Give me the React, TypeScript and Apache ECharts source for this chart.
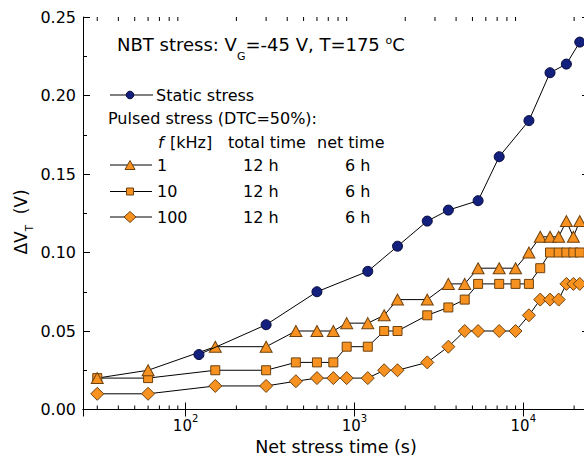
import React, { useEffect, useRef } from 'react';
import * as echarts from 'echarts';

// ---- data ----
const pulsedTime = [30, 60, 150, 300, 450, 600, 750, 900, 1200, 1500, 1800, 2700, 3600, 4500, 5400, 7200, 9000, 10800, 12600, 14400, 16200, 18000, 19800, 21600];
const dvt1kHz = [0.02, 0.025, 0.04, 0.04, 0.05, 0.05, 0.05, 0.055, 0.055, 0.06, 0.07, 0.07, 0.08, 0.08, 0.09, 0.09, 0.09, 0.1, 0.11, 0.11, 0.11, 0.12, 0.11, 0.12];
const dvt10kHz = [0.02, 0.02, 0.025, 0.025, 0.03, 0.03, 0.03, 0.04, 0.04, 0.05, 0.05, 0.06, 0.065, 0.07, 0.08, 0.08, 0.08, 0.08, 0.09, 0.1, 0.1, 0.1, 0.1, 0.1];
const dvt100kHz = [0.01, 0.01, 0.015, 0.015, 0.018, 0.02, 0.02, 0.02, 0.02, 0.025, 0.025, 0.03, 0.04, 0.05, 0.05, 0.05, 0.05, 0.06, 0.07, 0.07, 0.07, 0.08, 0.08, 0.08];
const staticTime = [120, 300, 600, 1200, 1800, 2700, 3600, 5400, 7200, 10800, 14400, 18000, 21600];
const staticDVT = [0.035, 0.054, 0.075, 0.088, 0.104, 0.12, 0.127, 0.133, 0.161, 0.184, 0.2145, 0.22, 0.234];

const xMinorTicks = [30, 40, 50, 60, 70, 80, 90, 200, 300, 400, 500, 600, 700, 800, 900, 2000, 3000, 4000, 5000, 6000, 7000, 8000, 9000, 20000];
const X_MIN = 24.7;
const X_MAX = 24500;
const Y_MIN = 0;
const Y_MAX = 0.25;
const Y_STEP = 0.05;

const legendRows = [
  { f: '1', total: '12 h', net: '6 h' },
  { f: '10', total: '12 h', net: '6 h' },
  { f: '100', total: '12 h', net: '6 h' },
];

const FONT = 'DejaVu Sans';
const NAVY = '#14207e';
const NAVY_EDGE = '#060b3a';
const ORANGE = '#f7911f';
const ORANGE_EDGE = '#6e4210';
const CHART_W = 600;
const CHART_H = 459;

const zip = (xs: number[], ys: number[]) => xs.map((x, i) => [x, ys[i]]);
const isPow10 = (v: number) => {
  const l = Math.log10(v);
  return Math.abs(l - Math.round(l)) < 1e-6;
};

function buildOption() {
  const axisLineStyle = { color: '#000', width: 1 };
  const baseX = {
    type: 'log' as const,
    logBase: 10,
    min: X_MIN,
    max: X_MAX,
    axisLine: { show: true, lineStyle: axisLineStyle },
    axisTick: { show: true, inside: true, length: 7, lineStyle: axisLineStyle },
    splitLine: { show: false },
    minorSplitLine: { show: false },
  };
  const baseY = {
    type: 'value' as const,
    min: Y_MIN,
    max: Y_MAX,
    interval: Y_STEP,
    axisLine: { show: true, lineStyle: axisLineStyle },
    axisTick: { show: true, inside: true, length: 7, lineStyle: axisLineStyle },
    minorTick: { show: true, splitNumber: 2, length: 4, lineStyle: axisLineStyle },
    splitLine: { show: false },
  };
  const txt = { fontFamily: FONT, fill: '#000' };
  const lx0 = 110;
  const lx1 = 153;
  const mx = 130;
  const rowsY = [165, 191.5, 217];

  const legendGraphics: any[] = [
    // static
    { type: 'line', shape: { x1: lx0, y1: 95, x2: lx1, y2: 95 }, style: { stroke: '#000', lineWidth: 1 } },
    { type: 'circle', shape: { cx: mx, cy: 95, r: 3.8 }, style: { fill: NAVY, stroke: NAVY_EDGE, lineWidth: 1 } },
    { type: 'text', x: 156, y: 95, style: { ...txt, text: 'Static stress', fontSize: 16, verticalAlign: 'middle', textVerticalAlign: 'middle' } },
    { type: 'text', x: 108, y: 118, style: { ...txt, text: 'Pulsed stress (DTC=50%):', fontSize: 16, verticalAlign: 'middle', textVerticalAlign: 'middle' } },
    { type: 'text', x: 158, y: 142, style: { ...txt, text: 'f', fontSize: 16, fontStyle: 'italic', verticalAlign: 'middle', textVerticalAlign: 'middle' } },
    { type: 'text', x: 170, y: 142, style: { ...txt, text: '[kHz]', fontSize: 16, verticalAlign: 'middle', textVerticalAlign: 'middle' } },
    { type: 'text', x: 228, y: 142, style: { ...txt, text: 'total time', fontSize: 16, verticalAlign: 'middle', textVerticalAlign: 'middle' } },
    { type: 'text', x: 317, y: 142, style: { ...txt, text: 'net time', fontSize: 16, verticalAlign: 'middle', textVerticalAlign: 'middle' } },
  ];
  legendRows.forEach((r, i) => {
    const y = rowsY[i];
    legendGraphics.push({ type: 'line', shape: { x1: lx0, y1: y, x2: lx1 - 1, y2: y }, style: { stroke: '#000', lineWidth: 1 } });
    const mstyle = { fill: ORANGE, stroke: ORANGE_EDGE, lineWidth: 1 };
    if (i === 0) {
      legendGraphics.push({ type: 'polygon', shape: { points: [[mx - 5, y + 4.5], [mx + 5, y + 4.5], [mx, y - 4.5]] }, style: mstyle });
    } else if (i === 1) {
      legendGraphics.push({ type: 'rect', shape: { x: mx - 3.5, y: y - 3.5, width: 7, height: 7 }, style: mstyle });
    } else {
      legendGraphics.push({ type: 'polygon', shape: { points: [[mx - 6, y], [mx, y - 5.5], [mx + 6, y], [mx, y + 5.5]] }, style: mstyle });
    }
    legendGraphics.push({ type: 'text', x: 157, y, style: { ...txt, text: r.f, fontSize: 16, verticalAlign: 'middle', textVerticalAlign: 'middle' } });
    legendGraphics.push({ type: 'text', x: 243, y, style: { ...txt, text: r.total, fontSize: 16, verticalAlign: 'middle', textVerticalAlign: 'middle' } });
    legendGraphics.push({ type: 'text', x: 345, y, style: { ...txt, text: r.net, fontSize: 16, verticalAlign: 'middle', textVerticalAlign: 'middle' } });
  });

  const title = {
    type: 'text',
    x: 117,
    y: 35,
    style: {
      text: '{a|NBT stress: V}{s|G}{a|=-45 V, T=175 }{o|o}{a|C}',
      verticalAlign: 'top',
      textVerticalAlign: 'top',
      rich: {
        a: { fontFamily: FONT, fontSize: 18, fill: '#000', lineHeight: 27, verticalAlign: 'top' },
        s: { fontFamily: FONT, fontSize: 11, fill: '#000', lineHeight: 11, verticalAlign: 'bottom' },
        o: { fontFamily: FONT, fontSize: 11, fill: '#000', lineHeight: 11, verticalAlign: 'top' },
      },
    },
  };

  const yTitle = {
    type: 'text',
    x: 12,
    y: 222,
    rotation: Math.PI / 2,
    style: {
      text: '{a|ΔV}{s|T}{a|  (V)}',
      align: 'center',
      textAlign: 'center',
      verticalAlign: 'top',
      textVerticalAlign: 'top',
      rich: {
        a: { fontFamily: FONT, fontSize: 17, fill: '#000', lineHeight: 22, verticalAlign: 'top' },
        s: { fontFamily: FONT, fontSize: 10, fill: '#000', lineHeight: 10, verticalAlign: 'bottom' },
      },
    },
  };

  const markerSeries = (name: string, ys: number[], symbol: string, size: any) => ({
    type: 'line',
    name,
    data: zip(pulsedTime, ys),
    symbol,
    symbolSize: size,
    showAllSymbol: true,
    itemStyle: { color: ORANGE, borderColor: ORANGE_EDGE, borderWidth: 1 },
    lineStyle: { color: '#000', width: 1 },
    emphasis: { disabled: true },
    z: 3,
  });

  return {
    animation: false,
    backgroundColor: '#fff',
    grid: { left: 83, right: CHART_W - 589, top: 17, bottom: CHART_H - 409.5, containLabel: false, outerBoundsMode: 'none' },
    xAxis: [
      {
        ...baseX,
        position: 'bottom',
        axisLabel: {
          margin: 4,
          formatter: (v: number) => (isPow10(v) ? `{b|10}{p|${Math.round(Math.log10(v))}}` : ''),
          rich: {
            b: { fontFamily: FONT, fontSize: 15, color: '#000', verticalAlign: 'bottom' },
            p: { fontFamily: FONT, fontSize: 10, color: '#000', verticalAlign: 'top', padding: [0, 0, 10, 0] },
          },
        },
        name: 'Net stress time (s)',
        nameLocation: 'middle',
        nameGap: 28,
        nameTextStyle: { fontFamily: FONT, fontSize: 17.5, color: '#000' },
      },
      { ...baseX, position: 'top', axisLabel: { show: false } },
    ],
    yAxis: [
      {
        ...baseY,
        position: 'left',
        axisLabel: { margin: 7, fontFamily: FONT, fontSize: 16, color: '#000', formatter: (v: number) => v.toFixed(2) },
      },
      { ...baseY, position: 'right', axisLabel: { show: false } },
    ],
    graphic: [title, yTitle, ...legendGraphics],
    series: [
      {
        type: 'custom',
        silent: true,
        data: xMinorTicks.map((v) => [v, 0]),
        encode: { x: 0, y: 1 },
        clip: false,
        z: 10,
        renderItem: (_p: any, api: any) => {
          const v = api.value(0);
          const b = api.coord([v, Y_MIN]);
          const t = api.coord([v, Y_MAX]);
          return {
            type: 'group',
            children: [
              { type: 'line', shape: { x1: b[0], y1: b[1], x2: b[0], y2: b[1] - 4 }, style: { stroke: '#000', lineWidth: 1 } },
              { type: 'line', shape: { x1: t[0], y1: t[1], x2: t[0], y2: t[1] + 4 }, style: { stroke: '#000', lineWidth: 1 } },
            ],
          };
        },
      },
      markerSeries('100 kHz', dvt100kHz, 'diamond', [13, 13]),
      markerSeries('10 kHz', dvt10kHz, 'rect', [9, 9]),
      markerSeries('1 kHz', dvt1kHz, 'triangle', [12, 11]),
      {
        type: 'line',
        name: 'Static stress',
        data: zip(staticTime, staticDVT),
        symbol: 'circle',
        symbolSize: 10,
        itemStyle: { color: NAVY, borderColor: NAVY_EDGE, borderWidth: 1 },
        lineStyle: { color: '#000', width: 1 },
        emphasis: { disabled: true },
        z: 4,
      },
    ],
  };
}

export default function App() {
  const ref = useRef<HTMLDivElement>(null);
  useEffect(() => {
    if (!ref.current) return;
    const chart = echarts.init(ref.current, undefined, { renderer: 'svg' });
    chart.setOption(buildOption() as any);
    return () => chart.dispose();
  }, []);
  return (
    <div style={{ position: 'absolute', left: 0, top: 0, width: 584, height: 459, overflow: 'hidden', background: '#fff' }}>
      <div ref={ref} style={{ width: CHART_W, height: CHART_H }} />
    </div>
  );
}
